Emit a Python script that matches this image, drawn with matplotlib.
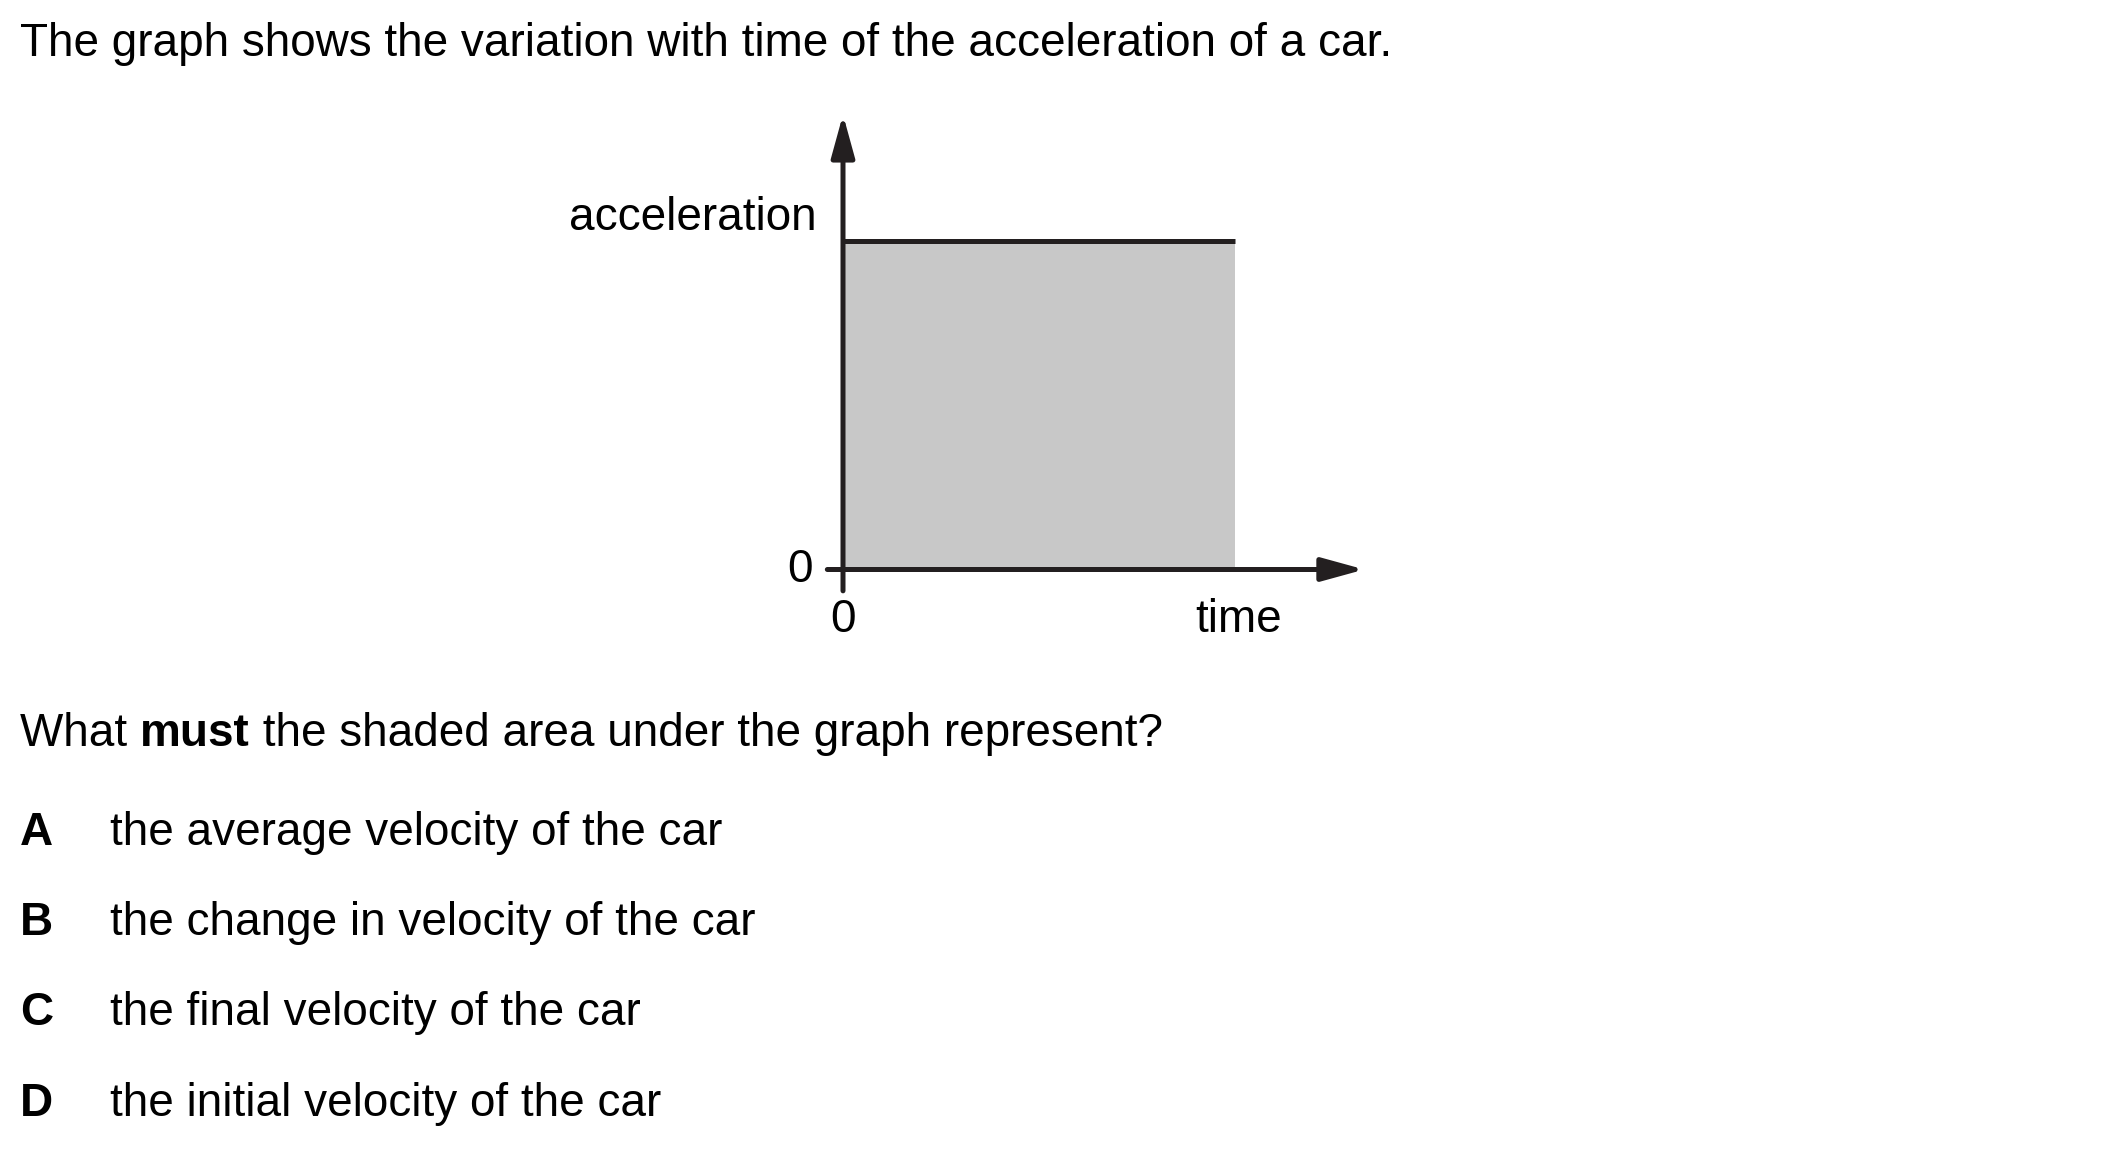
import matplotlib
matplotlib.use("Agg")
import matplotlib.pyplot as plt

# data for the graph: constant acceleration from t=0 to t_end
time = [0.0, 1.0]
accel = [1.0, 1.0]

title = "The graph shows the variation with time of the acceleration of a car."
question = ["What ", "must", " the shaded area under the graph represent?"]
letters = ["A", "B", "C", "D"]
options = [
    "the average velocity of the car",
    "the change in velocity of the car",
    "the final velocity of the car",
    "the initial velocity of the car",
]

W, H = 2101, 1159
plt.rcParams['font.family'] = ['Liberation Sans', 'DejaVu Sans']
fig = plt.figure(figsize=(W / 100, H / 100), dpi=100)
fs = 33
ink = '#231f20'


def px(x, y):
    return x / W, 1 - y / H


# graph axes: origin at (843, 569.5) px, 1 unit = 392 px in x, 328.5 px in y
x0, y0, sx, sy = 843, 569.5, 392, 328.5
xlim = (-0.1, 1.4)
ylim = (-0.2, 1.45)
left = x0 + xlim[0] * sx
right = x0 + xlim[1] * sx
bottom = y0 - ylim[0] * sy
top = y0 - ylim[1] * sy
ax = fig.add_axes([left / W, 1 - bottom / H, (right - left) / W, (bottom - top) / H])
ax.set_xlim(*xlim)
ax.set_ylim(*ylim)
ax.axis('off')

ax.fill_between(time, 0, accel, color='#c8c8c8', lw=0)
ax.plot(time, accel, color=ink, lw=3.6, solid_capstyle='butt')

arrow = dict(arrowstyle='-|>,head_length=0.4,head_width=0.11', mutation_scale=65,
             lw=3.6, color=ink, shrinkA=0, shrinkB=0)
ax.annotate('', xy=(1.33, 0), xytext=(-0.04, 0), arrowprops=arrow)
ax.annotate('', xy=(0, 1.385), xytext=(0, -0.065), arrowprops=arrow)

ax.text(-0.078, 0, '0', fontsize=fs, ha='right', va='center')
ax.text(0, -0.155, '0', fontsize=fs, ha='center', va='center')
ax.text(1.01, -0.155, 'time', fontsize=fs, ha='center', va='center')
ax.text(-0.068, 1.07, 'acceleration', fontsize=fs, ha='right', va='center')

# text around the graph
fig.text(*px(20, 56), title, fontsize=fs, ha='left', va='baseline')

renderer = fig.canvas.get_renderer()
x = 20
for i, part in enumerate(question):
    t = fig.text(*px(x, 746), part, fontsize=fs, ha='left', va='baseline',
                 fontweight='bold' if i == 1 else 'normal')
    x = t.get_window_extent(renderer).x1

for i, (letter, opt) in enumerate(zip(letters, options)):
    yb = [845, 935, 1025, 1116][i]
    fig.text(*px(20, yb), letter, fontsize=fs, fontweight='bold', ha='left', va='baseline')
    fig.text(*px(110, yb), opt, fontsize=fs, ha='left', va='baseline')

fig.savefig('out.png', dpi=100)
